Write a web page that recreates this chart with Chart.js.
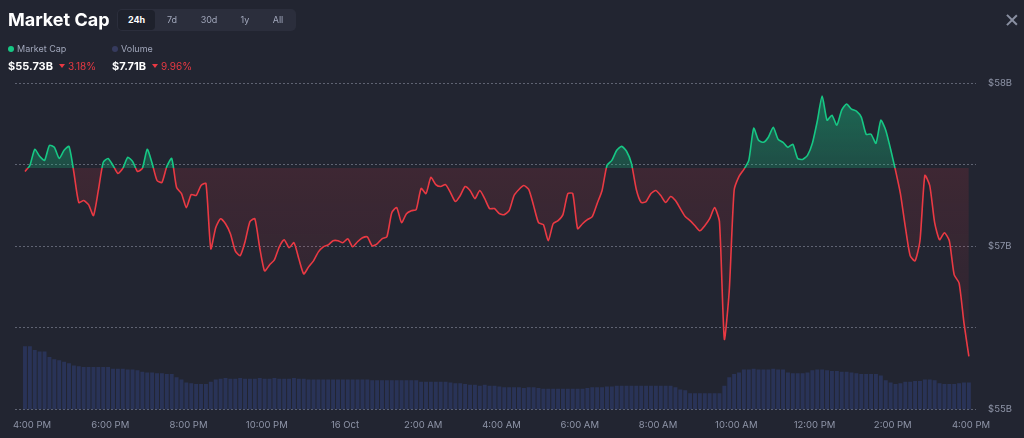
<!DOCTYPE html>
<html>
<head>
<meta charset="utf-8">
<title>Market Cap</title>
<script src="https://cdn.jsdelivr.net/npm/chart.js@4.4.1/dist/chart.umd.min.js"></script>
<style>
  html, body { margin: 0; padding: 0; background: #222531; }
  body { width: 1024px; height: 438px; position: relative; overflow: hidden; font-family: Inter, 'Noto Sans', sans-serif; color: #fff; }
  #chartBox { position: absolute; left: 0; top: 0; width: 1024px; height: 449px; }
  .title { position: absolute; left: 8px; top: 9px; font-size: 18px; font-weight: 700; line-height: 22px; }
  .tabs { position: absolute; left: 117px; top: 9px; width: 179px; height: 22px; background: #2b2e3c; border-radius: 5px; }
  .tab { position: absolute; top: 0; height: 22px; line-height: 22px; font-size: 9px; color: #a1a7bb; transform: translateX(-50%); }
  .tab.active { top: 1px; height: 20px; line-height: 20px; width: 37px; text-align: center; background: #1e212c; color: #fff; font-weight: 700; border-radius: 4px; }
  .legend { position: absolute; top: 43px; font-size: 9px; color: #a1a7bb; line-height: 12px; }
  .dot { display: inline-block; width: 6px; height: 6px; border-radius: 50%; margin-right: 3px; vertical-align: 0; }
  .value { position: absolute; top: 59px; font-size: 11px; font-weight: 700; line-height: 14px; }
  .change { position: absolute; top: 59px; font-size: 10px; color: #ea3943; line-height: 14px; }
  .tri { display: inline-block; width: 0; height: 0; border-left: 3px solid transparent; border-right: 3px solid transparent; border-top: 4px solid #ea3943; margin-right: 3px; vertical-align: 2px; }
  .close { position: absolute; left: 1006px; top: 14px; width: 12px; height: 12px; }
  .close::before, .close::after { content: ''; position: absolute; left: 5px; top: -1px; width: 1.5px; height: 14px; background: #8a90a2; }
  .close::before { transform: rotate(45deg); }
  .close::after { transform: rotate(-45deg); }
</style>
</head>
<body>
<div id="chartBox"><canvas id="capChart" width="1024" height="449"></canvas></div>

<div class="title">Market Cap</div>
<div class="tabs">
  <div class="tab active" style="left:1px;transform:none;">24h</div>
  <div class="tab" style="left:55px;">7d</div>
  <div class="tab" style="left:92px;">30d</div>
  <div class="tab" style="left:128px;">1y</div>
  <div class="tab" style="left:161px;">All</div>
</div>
<div class="legend" style="left:8px;"><span class="dot" style="background:#16c784;"></span>Market Cap</div>
<div class="legend" style="left:112px;"><span class="dot" style="background:#363b5e;"></span>Volume</div>
<div class="value" style="left:8px;">$55.73B</div>
<div class="change" style="left:59px;"><span class="tri"></span>3.18%</div>
<div class="value" style="left:112px;">$7.71B</div>
<div class="change" style="left:152px;"><span class="tri"></span>9.96%</div>
<div class="close"></div>

<script>
// hours after 4:00 PM, one point every 7.5 minutes
const startHour = -0.18;
const stepHours = 0.125;
const openValue = 57.48;

const xTickHours = [0, 2, 4, 6, 8, 10, 12, 14, 16, 18, 20, 22, 24];
const xTickLabels = ['4:00 PM', '6:00 PM', '8:00 PM', '10:00 PM', '16 Oct', '2:00 AM', '4:00 AM',
                     '6:00 AM', '8:00 AM', '10:00 AM', '12:00 PM', '2:00 PM', '4:00 PM'];
const yTickValues = [56, 56.5, 57, 57.5, 58];
const yTickLabels = ['$55B', '', '$57B', '', '$58B'];

// market cap, $B
const marketCap = [
  57.458, 57.495, 57.594, 57.551, 57.526, 57.618, 57.606, 57.538, 57.588, 57.612,
  57.452, 57.268, 57.280, 57.255, 57.188, 57.342, 57.514, 57.538, 57.495, 57.446,
  57.477, 57.545, 57.520, 57.458, 57.477, 57.594, 57.508, 57.403, 57.391, 57.489,
  57.538, 57.360, 57.323, 57.237, 57.317, 57.311, 57.372, 57.385, 56.985, 57.114,
  57.169, 57.138, 57.077, 56.972, 56.942, 57.028, 57.151, 57.169, 56.991, 56.849,
  56.886, 56.917, 56.997, 57.040, 56.991, 57.022, 56.923, 56.831, 56.874, 56.911,
  56.966, 56.997, 57.009, 57.034, 57.034, 57.022, 57.046, 56.997, 57.028, 57.052,
  57.058, 57.003, 57.015, 57.046, 57.058, 57.206, 57.237, 57.145, 57.200, 57.218,
  57.225, 57.354, 57.323, 57.422, 57.378, 57.366, 57.378, 57.329, 57.274, 57.311,
  57.366, 57.342, 57.292, 57.342, 57.292, 57.231, 57.231, 57.200, 57.194, 57.218,
  57.311, 57.348, 57.372, 57.348, 57.249, 57.145, 57.132, 57.034, 57.138, 57.157,
  57.194, 57.323, 57.323, 57.108, 57.138, 57.163, 57.182, 57.262, 57.342, 57.495,
  57.526, 57.588, 57.612, 57.582, 57.508, 57.348, 57.268, 57.274, 57.323, 57.342,
  57.311, 57.268, 57.305, 57.280, 57.231, 57.182, 57.157, 57.126, 57.095, 57.126,
  57.169, 57.237, 57.151, 56.431, 56.726, 57.342, 57.428, 57.471, 57.526, 57.723,
  57.649, 57.637, 57.668, 57.729, 57.655, 57.637, 57.606, 57.625, 57.538, 57.532,
  57.557, 57.631, 57.766, 57.920, 57.772, 57.803, 57.742, 57.834, 57.871, 57.840,
  57.828, 57.791, 57.686, 57.686, 57.631, 57.772, 57.711, 57.594, 57.465, 57.323,
  57.120, 56.942, 56.911, 57.034, 57.434, 57.372, 57.145, 57.040, 57.083, 57.034,
  56.825, 56.775, 56.529, 56.326
];

// volume per interval, $M
const volume = [
  82, 82, 77, 75, 75, 68, 65, 64, 62, 60,
  57, 56, 55, 55, 55, 55, 55, 55, 53, 53,
  53, 52, 52, 51, 49, 48, 48, 47, 47, 46,
  46, 42, 39, 35, 34, 33, 33, 33, 36, 39,
  40, 41, 40, 40, 41, 40, 40, 40, 41, 40,
  40, 41, 40, 40, 40, 41, 40, 40, 39, 39,
  39, 39, 39, 39, 39, 39, 39, 39, 39, 39,
  39, 38, 38, 38, 38, 38, 38, 38, 38, 38,
  38, 36, 36, 36, 36, 36, 36, 35, 34, 34,
  33, 32, 32, 31, 32, 31, 31, 30, 29, 29,
  29, 29, 28, 29, 29, 28, 27, 27, 27, 27,
  27, 27, 27, 27, 27, 28, 29, 29, 29, 30,
  30, 31, 31, 31, 31, 31, 31, 31, 31, 31,
  31, 31, 31, 29, 26, 25, 21, 21, 21, 21,
  21, 21, 21, 31, 42, 46, 48, 52, 52, 53,
  52, 52, 52, 53, 52, 52, 48, 47, 47, 47,
  48, 51, 52, 52, 51, 50, 50, 49, 49, 48,
  47, 46, 46, 46, 46, 44, 38, 35, 33, 34,
  36, 36, 37, 37, 39, 39, 38, 34, 33, 33,
  33, 34, 35, 35
];

const upColor = '#16c784';
const downColor = '#ea3943';
const tickColor = '#8f95a8';
const tickFont = { family: 'Inter', size: 9.5 };

function lineColor(context) {
  const { chart } = context;
  const { chartArea, scales } = chart;
  if (!chartArea) return downColor;
  const basePx = scales.y.getPixelForValue(openValue);
  let f = (basePx - chartArea.top) / chartArea.height;
  f = Math.min(1, Math.max(0, f));
  const g = chart.ctx.createLinearGradient(0, chartArea.top, 0, chartArea.bottom);
  g.addColorStop(0, upColor);
  g.addColorStop(f, upColor);
  g.addColorStop(f, downColor);
  g.addColorStop(1, downColor);
  return g;
}

function areaFill(context) {
  const { chart } = context;
  const { chartArea, scales } = chart;
  if (!chartArea) return { value: openValue };
  const basePx = scales.y.getPixelForValue(openValue);
  const up = chart.ctx.createLinearGradient(0, chartArea.top, 0, basePx);
  up.addColorStop(0, 'rgba(22, 199, 132, 0.45)');
  up.addColorStop(1, 'rgba(22, 199, 132, 0.25)');
  const down = chart.ctx.createLinearGradient(0, basePx, 0, chartArea.bottom);
  down.addColorStop(0, 'rgba(234, 57, 67, 0.14)');
  down.addColorStop(1, 'rgba(234, 57, 67, 0.02)');
  return { value: openValue, above: up, below: down };
}

const ctx = document.getElementById('capChart').getContext('2d');
const chart = new Chart(ctx, {
  type: 'line',
  data: {
    datasets: [
      {
        type: 'line',
        label: 'Market Cap',
        data: marketCap.map((v, i) => ({ x: startHour + i * stepHours, y: v })),
        yAxisID: 'y',
        order: 0,
        borderWidth: 1.6,
        pointRadius: 0,
        tension: 0.2,
        borderColor: lineColor,
        fill: areaFill
      },
      {
        type: 'bar',
        label: 'Volume',
        data: volume.map((v, i) => ({ x: startHour + i * stepHours, y: v })),
        yAxisID: 'yVol',
        order: 1,
        backgroundColor: 'rgba(52, 72, 140, 0.42)',
        barPercentage: 1,
        categoryPercentage: 0.8
      }
    ]
  },
  options: {
    responsive: false,
    animation: false,
    layout: { padding: { top: 83, left: 15, right: 0, bottom: 8 } },
    plugins: {
      legend: { display: false },
      tooltip: { enabled: false }
    },
    scales: {
      x: {
        type: 'linear',
        min: -0.435,
        max: 24.128,
        offset: false,
        grid: { display: false, drawTicks: false },
        border: { display: false },
        afterBuildTicks: scale => { scale.ticks = xTickHours.map(v => ({ value: v })); },
        ticks: {
          color: tickColor,
          font: tickFont,
          padding: 10,
          maxRotation: 0,
          autoSkip: false,
          callback: (value, index) => xTickLabels[index]
        }
      },
      y: {
        position: 'right',
        min: 56,
        max: 58,
        afterBuildTicks: scale => { scale.ticks = yTickValues.map(v => ({ value: v })); },
        grid: { color: 'rgba(170, 176, 195, 0.45)', drawTicks: false },
        border: { display: false, dash: [2, 2] },
        ticks: {
          color: tickColor,
          font: tickFont,
          padding: 12,
          callback: (value, index) => yTickLabels[index]
        }
      },
      yVol: {
        display: false,
        min: 0,
        max: 422.5
      }
    }
  }
});
</script>
</body>
</html>
